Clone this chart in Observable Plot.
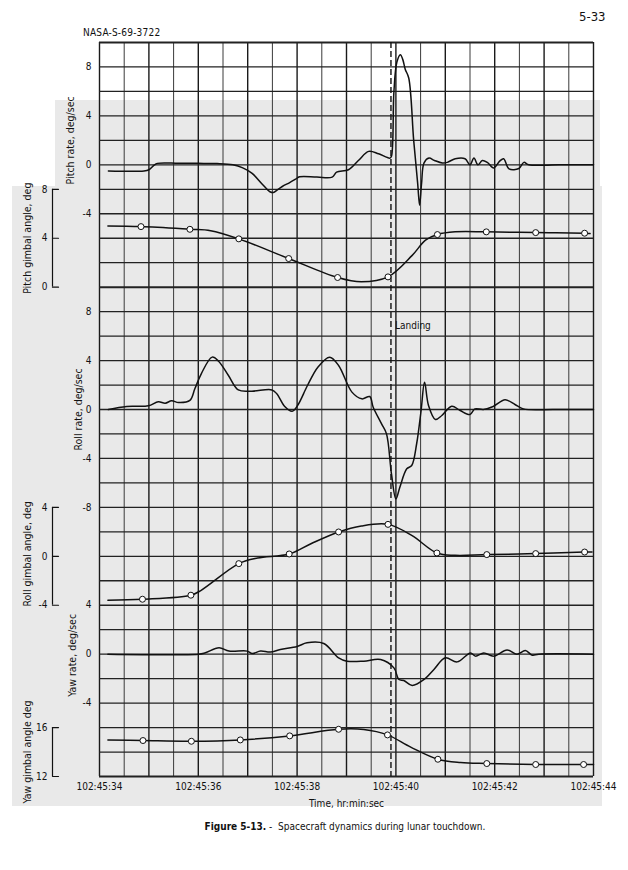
<!DOCTYPE html>
<html>
<head>
<meta charset="utf-8">
<script src="https://cdn.jsdelivr.net/npm/d3@7"></script>
<script src="https://cdn.jsdelivr.net/npm/@observablehq/plot@0.6"></script>
<style>
  html, body { margin: 0; padding: 0; background: #fff; }
  body { width: 628px; height: 870px; position: relative; overflow: hidden;
         font-family: "DejaVu Sans Condensed", "Liberation Sans Narrow", "DejaVu Sans", sans-serif; color: #111; }
  .bg { position: absolute; background: #e9e9e9; }
  #chart { position: absolute; left: 0; top: 0; }
  .txt { position: absolute; white-space: nowrap; }
</style>
</head>
<body>
<div class="bg" style="left:55px; top:100px; width:545px; height:88px;"></div>
<div class="bg" style="left:12px; top:186px; width:590px; height:620px;"></div>
<div id="chart"></div>
<div class="txt" style="left:83px; top:27px; font-size:10px; letter-spacing:0.2px;">NASA-S-69-3722</div>
<div class="txt" style="left:579px; top:9px; font-size:13px;">5-33</div>
<div class="txt" style="left:0; width:690px; text-align:center; top:821px; font-size:10px;"><span style="font-weight:bold">Figure 5-13.</span> - &nbsp;Spacecraft dynamics during lunar touchdown.</div>
<script>
// ---- time axis (seconds after 102:45:00) ----
const timeTicks = [34, 36, 38, 40, 42, 44];
const landingTime = [39.9];

// ---- tick labels ----
const pitchRateTicks = [8, 4, 0, -4];
const rollRateTicks = [8, 4, 0, -4, -8];
const yawRateTicks = [4, 0, -4];
const pitchGimbalTicks = [8, 4, 0];
const rollGimbalTicks = [4, 0, -4];
const yawGimbalTicks = [16, 12];

// ---- pitch rate, deg/sec  [time, value] ----
const pitchRate = [
  [34.18,-0.5],[34.9,-0.5],[35.0,-0.4],[35.1,-0.05],[35.17,0.12],[35.6,0.13],[36.0,0.12],[36.38,0.1],
  [36.7,0.0],[36.9,-0.25],[37.09,-0.7],[37.3,-1.6],[37.45,-2.2],[37.52,-2.26],[37.6,-2.05],[37.7,-1.77],
  [37.85,-1.45],[37.97,-1.17],[38.05,-0.98],[38.4,-1.0],[38.71,-1.0],[38.8,-0.6],[39.04,-0.4],[39.24,0.35],
  [39.45,1.1],[39.65,0.9],[39.88,0.55],[39.91,0.7],[39.96,6.0],[40.02,8.4],[40.09,9.0],[40.14,8.6],
  [40.19,7.8],[40.26,7.1],[40.36,2.0],[40.44,-1.5],[40.48,-3.3],[40.52,-1.5],[40.57,0.16],[40.67,0.55],
  [40.78,0.36],[40.94,0.15],[41.04,0.2],[41.2,0.5],[41.4,0.5],[41.5,0.0],[41.58,0.55],[41.66,0.0],
  [41.75,0.35],[41.85,0.2],[41.98,-0.25],[42.1,0.3],[42.18,0.5],[42.29,-0.33],[42.49,-0.3],[42.59,0.2],
  [42.69,0.0],[43.3,0.0],[44.0,0.0]
];

// ---- pitch gimbal angle, deg ----
const pitchGimbal = [
  [34.17,5.0],[34.84,4.95],[35.83,4.73],[36.25,4.62],[36.82,3.95],[37.83,2.34],[38.82,0.79],[39.3,0.44],
  [39.84,0.84],[40.33,2.6],[40.6,3.84],[40.84,4.3],[41.2,4.52],[41.83,4.52],[42.83,4.46],[43.82,4.41],[43.93,4.38]
];
const pitchGimbalSamples = [
  [34.84,4.95],[35.83,4.73],[36.82,3.95],[37.83,2.34],[38.82,0.79],[39.84,0.84],[40.84,4.3],[41.83,4.52],[42.83,4.46],[43.82,4.41]
];

// ---- roll rate, deg/sec ----
const rollRate = [
  [34.18,0.0],[34.55,0.25],[34.99,0.3],[35.19,0.63],[35.33,0.52],[35.46,0.71],[35.6,0.57],[35.83,0.74],
  [35.93,1.69],[36.06,2.92],[36.28,4.28],[36.41,3.95],[36.61,2.78],[36.81,1.6],[37.08,1.5],[37.49,1.6],
  [37.59,1.28],[37.75,0.25],[37.9,-0.14],[38.01,0.33],[38.21,1.96],[38.42,3.46],[38.66,4.28],[38.84,3.6],
  [39.11,1.42],[39.31,0.87],[39.47,1.06],[39.54,0.19],[39.71,-1.17],[39.81,-1.99],[39.91,-5.26],[40.0,-7.3],
  [40.08,-6.35],[40.22,-4.85],[40.32,-4.58],[40.42,-2.8],[40.51,-0.08],[40.58,2.23],[40.66,0.33],[40.8,-0.82],
  [40.93,-0.49],[41.13,0.27],[41.3,-0.08],[41.5,-0.41],[41.6,0.05],[41.77,0.0],[41.97,0.25],[42.21,0.79],
  [42.41,0.41],[42.58,0.05],[43.2,0.0],[44.0,0.0]
];

// ---- roll gimbal angle, deg ----
const rollGimbal = [
  [34.17,-3.59],[34.87,-3.51],[35.85,-3.18],[36.05,-2.8],[36.82,-0.6],[37.2,-0.14],[37.84,0.19],[38.28,1.03],
  [38.84,1.99],[39.3,2.48],[39.84,2.61],[40.32,1.71],[40.83,0.27],[41.2,0.08],[41.84,0.14],[42.83,0.22],[43.82,0.35],[43.97,0.35]
];
const rollGimbalSamples = [
  [34.87,-3.51],[35.85,-3.18],[36.82,-0.6],[37.84,0.19],[38.84,1.99],[39.84,2.61],[40.83,0.27],[41.84,0.14],[42.83,0.22],[43.82,0.35]
];

// ---- yaw rate, deg/sec ----
const yawRate = [
  [34.17,0.0],[36.0,0.0],[36.13,0.1],[36.42,0.52],[36.62,0.25],[36.99,0.25],[37.09,0.05],[37.26,0.25],
  [37.46,0.17],[37.66,0.38],[38.0,0.63],[38.2,0.93],[38.54,0.87],[38.84,-0.3],[39.01,-0.57],[39.35,-0.57],
  [39.69,-0.44],[39.96,-1.12],[40.06,-2.07],[40.16,-2.15],[40.33,-2.56],[40.57,-2.07],[40.77,-1.25],[41.0,-0.3],
  [41.24,-0.63],[41.51,0.1],[41.61,-0.16],[41.78,0.1],[41.98,-0.16],[42.25,0.35],[42.45,0.0],[42.62,0.3],
  [42.76,-0.08],[42.89,0.0],[44.0,0.0]
];

// ---- yaw gimbal angle, deg ----
const yawGimbal = [
  [34.17,14.99],[34.88,14.94],[35.86,14.88],[36.85,14.99],[37.85,15.32],[38.84,15.86],[39.35,15.84],
  [39.83,15.4],[40.3,14.4],[40.85,13.41],[41.31,13.14],[41.84,13.06],[42.83,12.98],[43.8,12.98],[44.0,12.98]
];
const yawGimbalSamples = [
  [34.88,14.94],[35.86,14.88],[36.85,14.99],[37.85,15.32],[38.84,15.86],[39.83,15.4],[40.85,13.41],[41.84,13.06],[42.83,12.98],[43.8,12.98]
];

// ---- axis titles ----
const labels = {
  pitchRate: "Pitch rate, deg/sec",
  pitchGimbal: "Pitch gimbal angle, deg",
  rollRate: "Roll rate, deg/sec",
  rollGimbal: "Roll gimbal angle, deg",
  yawRate: "Yaw rate, deg/sec",
  yawGimbal: "Yaw gimbal angle deg"
};

// Each panel maps its values onto the shared grid (one grid row = 2 units).
const rowOf = {
  pitchRate: v => 25 + v / 2,
  pitchGimbal: v => 20 + v / 2,
  rollRate: v => 15 + v / 2,
  rollGimbal: v => 9 + v / 2,
  yawRate: v => 5 + v / 2,
  yawGimbal: v => (v - 12) / 2
};

const ink = "#111";
const font = "\"DejaVu Sans Condensed\", \"Liberation Sans Narrow\", sans-serif";

function trace(data, key) {
  return Plot.line(data, {x: d => d[0], y: d => rowOf[key](d[1]), curve: "catmull-rom", stroke: ink, strokeWidth: 1.5});
}
function samples(data, key) {
  return Plot.dot(data, {x: d => d[0], y: d => rowOf[key](d[1]), r: 3, fill: "white", stroke: ink, strokeWidth: 1});
}
function rateTicks(ticks, key) {
  return Plot.text(ticks, {x: () => 34, y: d => rowOf[key](d), text: d => String(d).replace("-", "-"), textAnchor: "end", dx: -8, fontSize: 10, fill: ink});
}
function gimbalAxis(ticks, key) {
  const rows = ticks.map(rowOf[key]);
  return [
    Plot.ruleX([34], {y1: d3.min(rows), y2: d3.max(rows), dx: -47, stroke: ink, strokeWidth: 1.2}),
    Plot.vector(ticks, {x: () => 34, y: d => rowOf[key](d), dx: -47, rotate: 90, length: 6, anchor: "start",
      shape: {draw(context, l) { context.moveTo(0, 0); context.lineTo(0, -l); }}, stroke: ink, strokeWidth: 1.2}),
    Plot.text(ticks, {x: () => 34, y: d => rowOf[key](d), text: d => String(d), textAnchor: "end", dx: -52, fontSize: 10, fill: ink})
  ];
}
function sideLabel(key, row, dx) {
  return Plot.text([labels[key]], {x: () => 34, y: () => row, text: d => d, rotate: -90, dx, fontSize: 10.5, fill: ink});
}

const halfSeconds = d3.range(0, 21).map(i => 34 + i * 0.5);
const rows = d3.range(0, 31);

const chart = Plot.plot({
  width: 628,
  height: 812,
  marginLeft: 99,
  marginRight: 35,
  marginTop: 42,
  marginBottom: 36,
  style: {fontFamily: font, fontSize: "10px", color: ink, background: "transparent", overflow: "visible"},
  x: {domain: [34, 44]},
  y: {domain: [0, 30], axis: null},
  marks: [
    // grid
    Plot.ruleX(halfSeconds, {stroke: d => (d % 1 === 0 ? "int" : "half"), strokeWidth: d => (d % 1 === 0 ? 1.4 : 1.0)}),
    Plot.ruleY(rows, {stroke: "#222", strokeWidth: d => (d === 20 || d === 0 || d === 30 ? 2 : 1.3)}),
    // landing line
    Plot.ruleX(landingTime, {stroke: ink, strokeWidth: 1.4, strokeDasharray: "6,3"}),
    Plot.text(landingTime, {x: d => d, y: () => 18.43, text: () => "Landing", textAnchor: "start", dx: 4, fontSize: 10, fill: ink}),
    // traces
    trace(pitchRate, "pitchRate"),
    trace(pitchGimbal, "pitchGimbal"),
    samples(pitchGimbalSamples, "pitchGimbal"),
    trace(rollRate, "rollRate"),
    trace(rollGimbal, "rollGimbal"),
    samples(rollGimbalSamples, "rollGimbal"),
    trace(yawRate, "yawRate"),
    trace(yawGimbal, "yawGimbal"),
    samples(yawGimbalSamples, "yawGimbal"),
    // rate tick labels
    rateTicks(pitchRateTicks, "pitchRate"),
    rateTicks(rollRateTicks, "rollRate"),
    rateTicks(yawRateTicks, "yawRate"),
    // gimbal bracket axes
    ...gimbalAxis(pitchGimbalTicks, "pitchGimbal"),
    ...gimbalAxis(rollGimbalTicks, "rollGimbal"),
    ...gimbalAxis(yawGimbalTicks, "yawGimbal"),
    // side labels
    sideLabel("pitchRate", 26.0, -29),
    sideLabel("pitchGimbal", 22.0, -72),
    sideLabel("rollRate", 15.0, -21),
    sideLabel("rollGimbal", 9.1, -72),
    sideLabel("yawRate", 4.95, -27),
    sideLabel("yawGimbal", 1.0, -72),
    // time axis
    Plot.axisX(timeTicks, {tickFormat: d => `102:45:${d}`, tickSize: 0, tickPadding: 6, label: null, fontSize: 10}),
    Plot.text(["Time, hr:min:sec"], {x: () => 39, y: () => -1.1, text: d => d, fontSize: 10, fill: ink})
  ],
  color: {domain: ["int", "half"], range: ["#1a1a1a", "#3a3a3a"]}
});
document.getElementById("chart").appendChild(chart);
</script>
</body>
</html>
